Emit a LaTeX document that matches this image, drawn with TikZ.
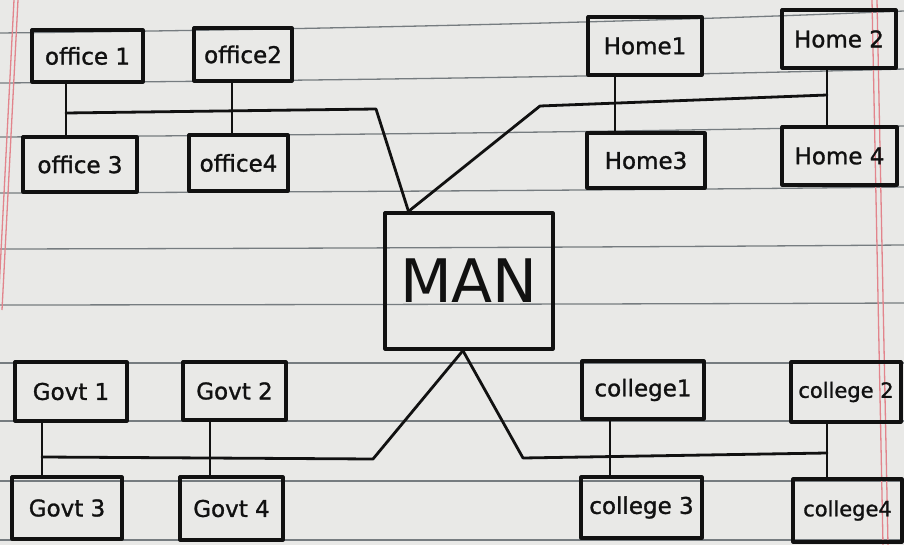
\documentclass[tikz,border=0pt]{standalone}
\usepackage{fontspec}
\setmainfont{DejaVu Sans}
\newfontfamily\handfont[FakeBold=1.2]{DejaVu Sans}
\definecolor{paper}{HTML}{E9E9E7}
\definecolor{inkc}{HTML}{111111}
\definecolor{rulec}{HTML}{767C80}
\definecolor{marginc}{HTML}{E2848C}
\begin{document}
\begin{tikzpicture}[x=1pt,y=-1pt,
  box/.style={draw=inkc, line width=3.2pt, line join=round, rectangle,
    inner sep=0pt, text=inkc, font=\handfont\fontsize{23}{23}\selectfont},
  narrow/.style={font=\handfont\fontsize{21}{21}\selectfont},
  wire/.style={draw=inkc, line width=2.8pt, line cap=round, line join=round},
  rule/.style={draw=rulec, line width=1.3pt},
  margin/.style={draw=marginc, line width=1.3pt}]

% paper
\fill[paper] (0,0) rectangle (904,545);
\useasboundingbox (0,0) rectangle (904,545);

% ruled lines of the notebook page
\foreach \ry/\rd in {33/22,83/14,137/11,193/6,249/4,305/2,363/0,421/0,481/0,540/0}
  \draw[rule] (0,\ry) .. controls (300,\ry-0.15*\rd) and (650,\ry-0.5*\rd) .. (904,\ry-\rd);

% margin lines
\draw[margin] (14,0) -- (-2,310);
\draw[margin] (18,0) -- (2,310);
\draw[margin] (872,0) -- (883,545);
\draw[margin] (877,0) -- (888,545);

% central node
\node[box, minimum width=168pt, minimum height=136pt,
      font=\fontsize{60}{60}\selectfont] (man) at (469,281) {MAN};

% offices
\node[box, minimum width=111pt, minimum height=52pt] (o1) at (87.5,56) {office 1};
\node[box, minimum width=98pt,  minimum height=53pt] (o2) at (243,54.5) {office2};
\node[box, minimum width=114pt, minimum height=55pt] (o3) at (80,164.5) {office 3};
\node[box, minimum width=99pt,  minimum height=56pt] (o4) at (238.5,163) {office4};

% homes
\node[box, minimum width=114pt, minimum height=58pt] (h1) at (645,46) {Home1};
\node[box, minimum width=114pt, minimum height=58pt] (h2) at (839,39) {Home 2};
\node[box, minimum width=118pt, minimum height=55pt] (h3) at (646,160.5) {Home3};
\node[box, minimum width=115pt, minimum height=58pt] (h4) at (839.5,156) {Home 4};

% government
\node[box, minimum width=112pt, minimum height=59pt] (g1) at (71,391.5) {Govt 1};
\node[box, minimum width=103pt, minimum height=58pt] (g2) at (234.5,391) {Govt 2};
\node[box, minimum width=110pt, minimum height=62pt] (g3) at (67,508) {Govt 3};
\node[box, minimum width=103pt, minimum height=63pt] (g4) at (231.5,508.5) {Govt 4};

% colleges
\node[box, minimum width=122pt, minimum height=58pt] (c1) at (643,390) {college1};
\node[box, narrow, minimum width=110pt, minimum height=60pt] (c2) at (846,392) {college 2};
\node[box, minimum width=121pt, minimum height=61pt] (c3) at (641.5,507.5) {college 3};
\node[box, narrow, minimum width=109pt, minimum height=63pt] (c4) at (847.5,510.5) {college4};

% bus points
\coordinate (ob1) at (66,113);
\coordinate (ob2) at (232,111);
\coordinate (obR) at (376,109);
\coordinate (hb0) at (540,106);
\coordinate (hb1) at (615,103);
\coordinate (hb2) at (827,95);
\coordinate (gb1) at (42,457);
\coordinate (gb2) at (210,458);
\coordinate (gbR) at (373,459);
\coordinate (cbL) at (523,458);
\coordinate (cb1) at (610,456);
\coordinate (cb2) at (827,453);

% office bus
\draw[wire] (ob1) -- (obR) -- (man.131);
\draw[wire] (o1.south -| ob1) -- (o3.north -| ob1);
\draw[wire] (o2.south -| ob2) -- (o4.north -| ob2);

% home bus
\draw[wire] (man.131) -- (hb0) -- (hb2);
\draw[wire] (h1.south -| hb1) -- (h3.north -| hb1);
\draw[wire] (h2.south -| hb2) -- (h4.north -| hb2);

% government bus
\draw[wire] (gb1) -- (gbR) -- (man.265);
\draw[wire] (g1.south -| gb1) -- (g3.north -| gb1);
\draw[wire] (g2.south -| gb2) -- (g4.north -| gb2);

% college bus
\draw[wire] (man.265) -- (cbL) -- (cb2);
\draw[wire] (c1.south -| cb1) -- (c3.north -| cb1);
\draw[wire] (c2.south -| cb2) -- (c4.north -| cb2);
\end{tikzpicture}
\end{document}
